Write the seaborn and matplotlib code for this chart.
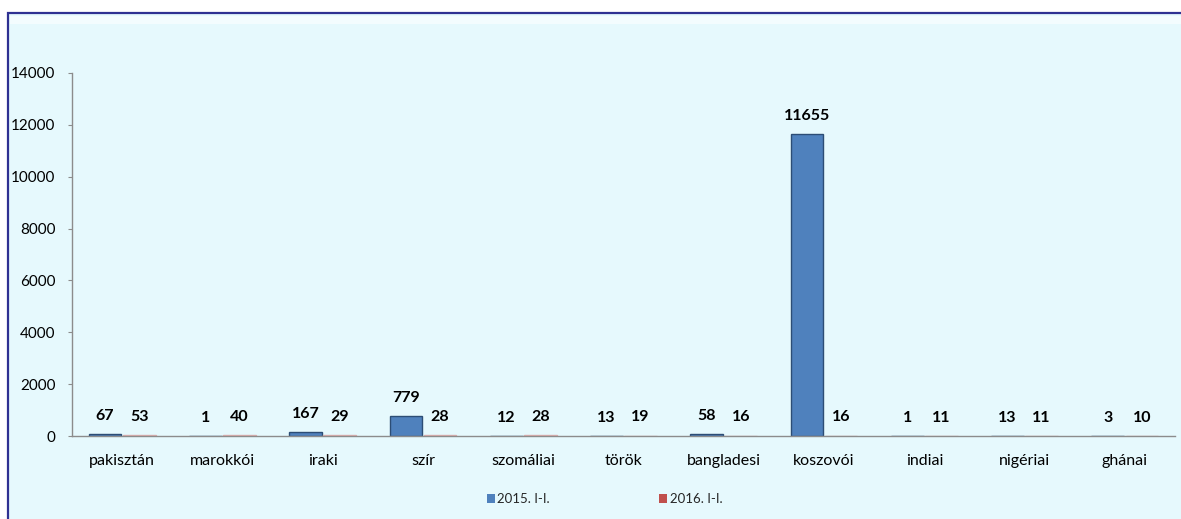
import matplotlib.pyplot as plt
import matplotlib.patches as mpatches
import pandas as pd
import seaborn as sns

nations = ["pakisztán", "marokkói", "iraki", "szír", "szomáliai", "török",
           "bangladesi", "koszovói", "indiai", "nigériai", "ghánai"]
v2015 = [67, 1, 167, 779, 12, 13, 58, 11655, 1, 13, 3]
v2016 = [53, 40, 29, 28, 28, 19, 16, 16, 11, 11, 10]
years = ["2015. I-I.", "2016. I-I."]

df = pd.DataFrame({
    "nation": nations * 2,
    "value": v2015 + v2016,
    "year": [years[0]] * len(nations) + [years[1]] * len(nations),
})

sns.set_style("white")
plt.rcParams["font.family"] = ["Lato", "DejaVu Sans"]

bg = "#E6F9FD"
fig = plt.figure(figsize=(11.81, 5.19), dpi=100)
fig.patch.set_facecolor("white")

# chart area background with navy border on top/left
fig.patches.append(mpatches.Rectangle((8 / 1181, -0.05), 1.1, (519 - 13) / 519 + 0.05,
                                      transform=fig.transFigure, facecolor=bg,
                                      edgecolor="#2E3192", linewidth=1.6, zorder=-2))
fig.patches.append(mpatches.Rectangle((10 / 1181, (519 - 24) / 519), 1.0, 8 / 519,
                                      transform=fig.transFigure, facecolor="white",
                                      alpha=0.55, edgecolor="none", zorder=-1))

ax = fig.add_axes([72 / 1181, 1 - 436 / 519, (1175 - 72) / 1181, (436 - 73) / 519])
ax.set_facecolor("none")
ax.set_zorder(2)

sns.barplot(data=df, x="nation", y="value", hue="year", ax=ax,
            palette=["#4F81BD", "#C0504D"], saturation=1, width=0.68, gap=0.04,
            linewidth=1.0, legend=False)
for bars, ec in zip(ax.containers, ["#2C4D75", "#E0AFAE"]):
    for b in bars:
        b.set_edgecolor(ec)
    ax.bar_label(bars, padding=8, fontsize=11.5, fontweight="bold", color="black")

ax.set_ylim(0, 14000)
ax.set_yticks(range(0, 14001, 2000))
ax.set_xlim(-0.5, len(nations) - 0.5)
ax.set_xlabel("")
ax.set_ylabel("")
for s in ["top", "right"]:
    ax.spines[s].set_visible(False)
for s in ["left", "bottom"]:
    ax.spines[s].set_color("#8C8C8C")
    ax.spines[s].set_linewidth(1.0)
ax.tick_params(axis="y", length=3, color="#8C8C8C", labelsize=11, pad=9, left=True,
               labelcolor="black")
ax.tick_params(axis="x", length=0, labelsize=11.5, pad=13, labelcolor="black")

handles = [mpatches.Patch(facecolor=c, edgecolor="none") for c in ["#4F81BD", "#C0504D"]]
fig.legend(handles, years, loc="center", bbox_to_anchor=(0.512, 0.038), ncol=2,
           frameon=False, fontsize=9.5, handlelength=0.6, handleheight=0.6,
           handletextpad=0.2, columnspacing=8.3)

fig.savefig("out.png", dpi=100, facecolor=fig.get_facecolor())
